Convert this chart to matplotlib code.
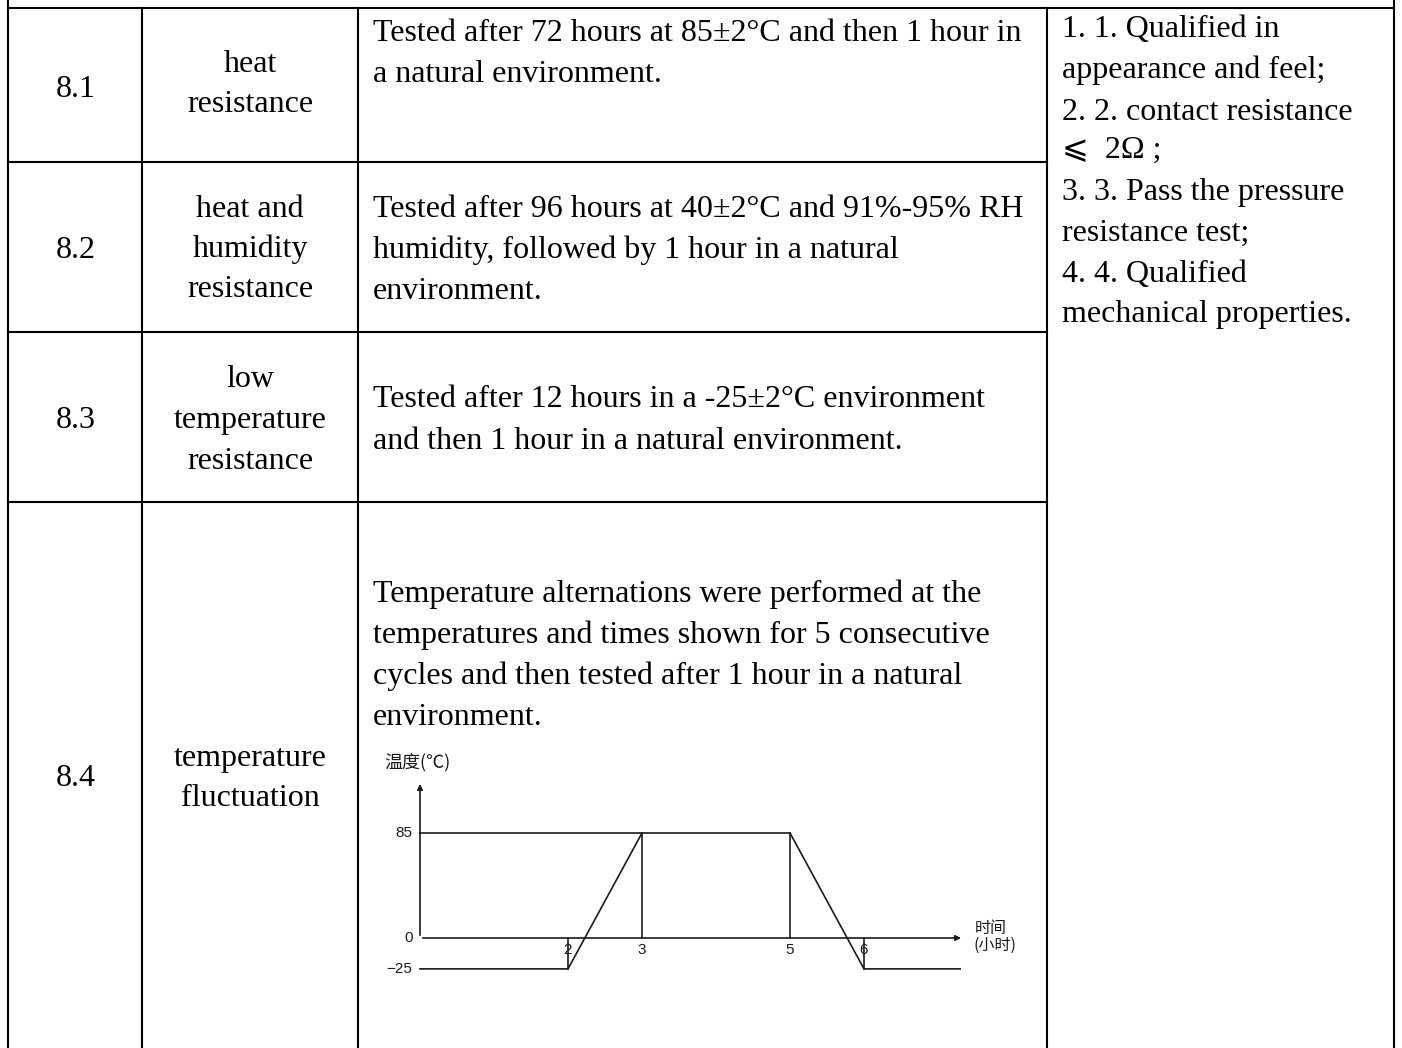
import matplotlib.pyplot as plt

# table content
nums = ['8.1', '8.2', '8.3', '8.4']
names = [['heat', 'resistance'],
         ['heat and', 'humidity', 'resistance'],
         ['low', 'temperature', 'resistance'],
         ['temperature', 'fluctuation']]
descs = [['Tested after 72 hours at 85\u00b12\u00b0C and then 1 hour in',
          'a natural environment.'],
         ['Tested after 96 hours at 40\u00b12\u00b0C and 91%-95% RH',
          'humidity, followed by 1 hour in a natural',
          'environment.'],
         ['Tested after 12 hours in a -25\u00b12\u00b0C environment',
          'and then 1 hour in a natural environment.'],
         ['Temperature alternations were performed at the',
          'temperatures and times shown for 5 consecutive',
          'cycles and then tested after 1 hour in a natural',
          'environment.']]
reqs = ['1. 1. Qualified in', 'appearance and feel;', '2. 2. contact resistance',
        '\u2a7d  2\u03a9 ;', '3. 3. Pass the pressure', 'resistance test;',
        '4. 4. Qualified', 'mechanical properties.']

# temperature profile (hours, degC)
prof_t = [0, 2, 3, 5, 6, 7.3]
prof_T = [-25, -25, 85, 85, -25, -25]
xticks = [2, 3, 5, 6]
yticks = [85, 0, -25]

W, H = 1402, 1048
fig = plt.figure(figsize=(W / 100, H / 100), dpi=100)
ax = fig.add_axes([0, 0, 1, 1])
ax.set_xlim(0, W)
ax.set_ylim(H, 0)
ax.axis('off')

lw = 1.5
col_x = [8, 142, 358, 1047, 1394]
row_y = [8, 162, 332, 502]

# grid lines
ax.plot([col_x[0], col_x[0]], [0, H], color='black', lw=lw)
ax.plot([col_x[-1], col_x[-1]], [0, H], color='black', lw=lw)
for x in col_x[1:-1]:
    ax.plot([x, x], [row_y[0], H], color='black', lw=lw)
ax.plot([col_x[0], col_x[-1]], [row_y[0], row_y[0]], color='black', lw=lw)
for y in row_y[1:]:
    ax.plot([col_x[0], col_x[3]], [y, y], color='black', lw=lw)

serif = ['Liberation Serif', 'DejaVu Serif']
fs = 23

num_base = [97, 258, 428, 786]
name_base = [[72, 112], [217, 257, 297], [387, 428, 469], [766, 806]]
desc_base = [[41, 82], [217, 258, 299], [407, 449], [602, 643, 684, 725]]
req_base = [37, 78, 120, 158, 200, 241, 282, 322]

for i in range(4):
    ax.text(76, num_base[i], nums[i], ha='center', va='baseline',
            fontsize=fs, family=serif)
    for s, b in zip(names[i], name_base[i]):
        ax.text(250, b, s, ha='center', va='baseline', fontsize=fs, family=serif)
    for s, b in zip(descs[i], desc_base[i]):
        ax.text(373, b, s, ha='left', va='baseline', fontsize=fs, family=serif)
for s, b in zip(reqs, req_base):
    ax.text(1062, b, s, ha='left', va='baseline', fontsize=fs,
            family=['Liberation Serif', 'DejaVu Sans'])

# inset chart: x=0 at px 420, 74 px/h; y=0 at px 938, 105/85 px/degC
sx, sy = 74.0, 105.0 / 85.0
x0, y0 = 420, 938
xl, yl = (-1.0, 8.0), (-60.0, 160.0)
left = x0 + xl[0] * sx
width = (xl[1] - xl[0]) * sx
bottom = y0 - yl[0] * sy
height = (yl[1] - yl[0]) * sy
ca = fig.add_axes([left / W, (H - bottom) / H, width / W, height / H])
ca.set_xlim(*xl)
ca.set_ylim(*yl)
ca.axis('off')

c = '#1a1a1a'
clw = 1.2
# axes with arrows
ca.annotate('', xy=(0, 127), xytext=(0, 0),
            arrowprops=dict(arrowstyle='-|>', color=c, lw=clw, mutation_scale=8))
ca.annotate('', xy=(7.35, 0), xytext=(0, 0),
            arrowprops=dict(arrowstyle='-|>', color=c, lw=clw, mutation_scale=8))
# 85 line from axis
ca.plot([0, prof_t[2]], [85, 85], color=c, lw=clw)
# profile
ca.plot(prof_t, prof_T, color=c, lw=clw)
# verticals at tick times
ca.plot([2, 2], [-25, 0], color=c, lw=clw)
ca.plot([3, 3], [0, 85], color=c, lw=clw)
ca.plot([5, 5], [0, 85], color=c, lw=clw)
ca.plot([6, 6], [-25, 0], color=c, lw=clw)

sans = ['Liberation Sans', 'DejaVu Sans']
for t in xticks:
    ca.text(t, -4, str(t), ha='center', va='top', fontsize=11, family=sans, color=c)
for v in yticks:
    ca.text(-0.1, v, str(v).replace('-', '\u2212'), ha='right', va='center',
            fontsize=11, family=sans, color=c)
cjk = ['Noto Sans CJK SC', 'DejaVu Sans']
ca.text(-0.48, 142, '温度(℃)', ha='left', va='center', fontsize=13, family=cjk, color=c)
ca.text(7.5, 8, '时间', ha='left', va='center', fontsize=11.5, family=cjk, color=c)
ca.text(7.48, -6, '(小时)', ha='left', va='center', fontsize=11.5, family=cjk, color=c)

fig.savefig('out.png', dpi=100)
